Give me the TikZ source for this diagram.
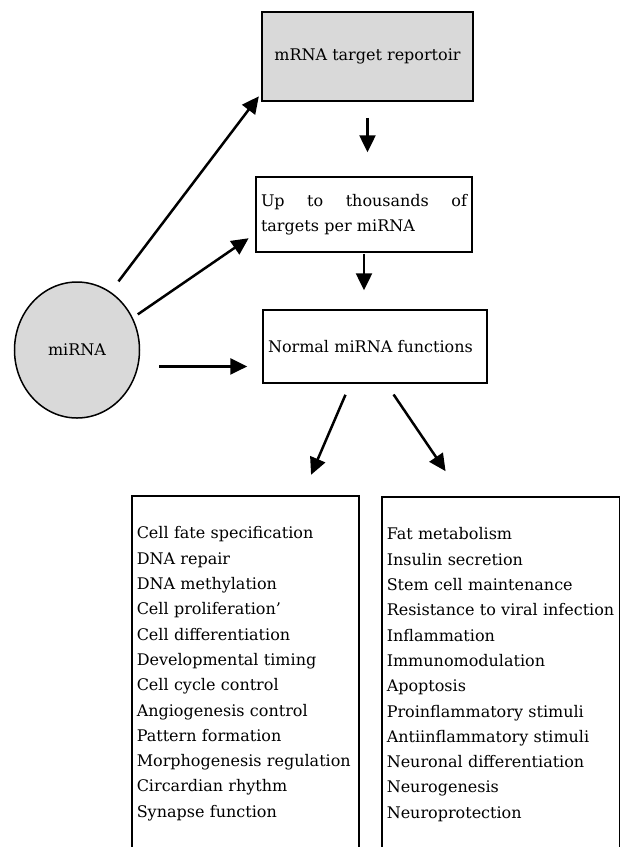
\documentclass[tikz,border=0pt]{standalone}
\usepackage{fontspec}
\setmainfont{DejaVu Serif}
\usetikzlibrary{arrows.meta,shapes.geometric,calc}
\definecolor{boxgray}{RGB}{217,217,217}
\begin{document}
\begin{tikzpicture}[x = 1pt, y = -1pt, line width = 1.5pt,
								font = \fontsize{16}{25.3}\selectfont,
								graybox/.style = {rectangle, draw, fill = 
								boxgray},
								plainbox/.style = {rectangle, draw, fill = 
								white, align = left, inner xsep = 5pt},
								listbox/.style = {rectangle, draw, align = left,
								anchor = north west, inner xsep = 5pt, inner ysep = 31pt},
								arr/.style = {line width = 2.5pt,
								-{Triangle[length = 17pt, width = 16pt]}}]

				\useasboundingbox (0,0) rectangle (620,847);
				\clip (0,0) rectangle (620,847);

				\node [ellipse, draw, fill = boxgray, minimum width = 125pt,
				minimum height = 136pt] (mirna) at (77,350) {miRNA};
				\node [graybox, minimum width = 211pt, minimum height = 89pt]
				(rep) at (367.5,56.5) {mRNA target reportoir};
				\node [plainbox, text width = 206pt, minimum height = 75pt]
				(up) at (364,214.5) {Up\hfill to\hfill thousands\hfill of\\targets per miRNA};
				\node [plainbox, text width = 214pt, minimum height = 73pt]
				(norm) at (375,346.5) {Normal miRNA functions};

				\node [listbox, text width = 217pt] (funa) at (131,495)
				{Cell fate specification\\DNA repair\\DNA methylation\\
				Cell proliferation'\\Cell differentiation\\Developmental timing\\
				Cell cycle control\\Angiogenesis control\\Pattern formation\\
				Morphogenesis regulation\\Circardian rhythm\\Synapse function\\ \mbox{}};
				\node [listbox, text width = 228pt] (funb) at (381,496)
				{Fat metabolism\\Insulin secretion\\Stem cell maintenance\\
				Resistance to viral infection\\Inflammation\\Immunomodulation\\
				Apoptosis\\Proinflammatory stimuli\\Antiinflammatory stimuli\\
				Neuronal differentiation\\Neurogenesis\\Neuroprotection\\ \mbox{}};

				\draw [arr, shorten <= 13pt, shorten >= 4pt] (mirna.60) -- (rep.199);
				\draw [arr, shorten <= 6pt, shorten >= 8pt] (mirna.30) -- (up.190);
				\draw [arr, shorten <= 21pt, shorten >= 15pt] (mirna.-15) -- (mirna.-15 -| norm.west);
				\draw [arr, shorten <= 16pt, shorten >= 24pt] (rep.south) -- (rep.south |- up.north);
				\draw [arr, shorten <= 1pt, shorten >= 19pt] (up.south) -- (up.south |- norm.north);
				\draw [arr, shorten <= 12pt, shorten >= 22pt]
				($(norm.south west)!0.39!(norm.south east)$) -- ($(funa.north west)!0.75!(funa.north east)$);
				\draw [arr, shorten <= 13pt, shorten >= 30pt]
				($(norm.south west)!0.55!(norm.south east)$) -- ($(funb.north west)!0.34!(funb.north east)$);
			\end{tikzpicture}
\end{document}
